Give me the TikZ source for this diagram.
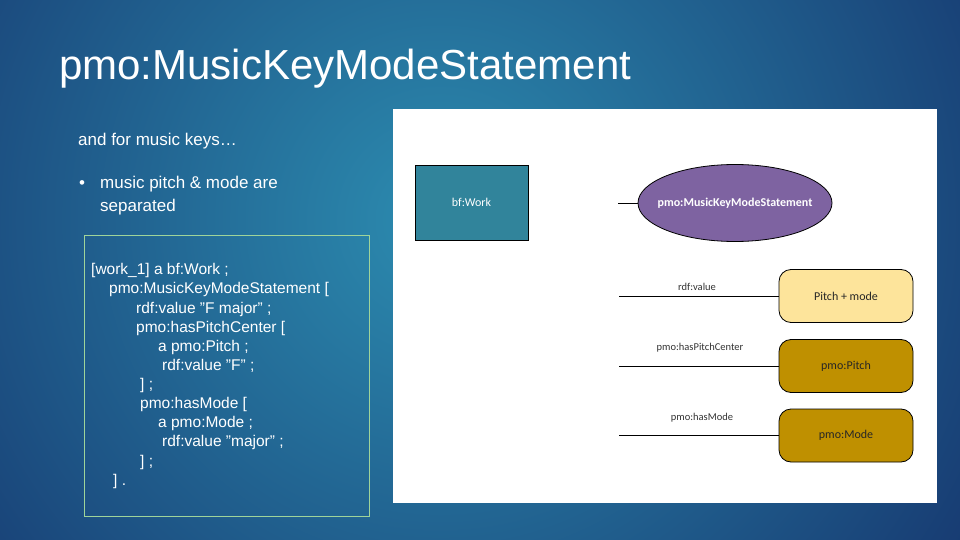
\documentclass[tikz,border=0pt]{standalone}
\usepackage{fontspec}
\setmainfont{Liberation Sans}
\newfontfamily\diagfont{Carlito}
\usetikzlibrary{shapes.geometric}
\definecolor{bgouter}{HTML}{15336C}
\definecolor{bginner}{HTML}{2C8CB0}
\definecolor{codeframe}{HTML}{9FD49A}
\definecolor{workfill}{HTML}{31849B}
\definecolor{stmtfill}{HTML}{7E63A1}
\definecolor{lightgold}{HTML}{FDE49B}
\definecolor{darkgold}{HTML}{BF9000}
\tikzset{
  txt/.style={anchor=base west, inner sep=0pt, text=white},
  codeline/.style={txt, font=\fontsize{15.5}{18}\selectfont},
  valbox/.style={draw=black, line width=0.8pt, rounded corners=12pt, minimum width=134pt, minimum height=53pt, font=\diagfont\fontsize{12}{14}\selectfont, text=black!85},
  rel/.style={draw=black, line width=0.8pt},
  rellabel/.style={inner sep=0pt, font=\diagfont\fontsize{10.5}{12}\selectfont, text=black!80}
}
\begin{document}
\begin{tikzpicture}[x=1pt,y=-1pt]
\useasboundingbox (0,0) rectangle (960,540);
\begin{scope}
\clip (0,0) rectangle (960,540);
\shade[inner color=bginner, outer color=bgouter] (440,220) circle (680pt);
\end{scope}
% title
\node[txt, font=\fontsize{42}{50}\selectfont] (title) at (59,80) {pmo:MusicKeyModeStatement};
% left text
\node[txt, font=\fontsize{17}{20}\selectfont] (intro) at (78,146) {and for music keys…};
\node[txt, font=\fontsize{17}{20}\selectfont] (bullet) at (79,189) {•};
\node[txt, font=\fontsize{17}{20}\selectfont] (b1) at (100,189) {music pitch \& mode are};
\node[txt, font=\fontsize{17}{20}\selectfont] (b2) at (100,211) {separated};
% code box
\node[draw=codeframe, line width=0.8pt, minimum width=285pt, minimum height=281pt, inner sep=0pt] (codebox) at (226.5,376) {};
\node[codeline] (c1) at (91,274.5) {[work\_1] a bf:Work ;};
\node[codeline] (c2) at (109,293.5) {pmo:MusicKeyModeStatement [};
\node[codeline] (c3) at (136,313) {rdf:value ”F major” ;};
\node[codeline] (c4) at (136,332) {pmo:hasPitchCenter [};
\node[codeline] (c5) at (158,351) {a pmo:Pitch ;};
\node[codeline] (c6) at (162,370) {rdf:value ”F” ;};
\node[codeline] (c7) at (140,389.5) {] ;};
\node[codeline] (c8) at (140,408.5) {pmo:hasMode [};
\node[codeline] (c9) at (158,427.5) {a pmo:Mode ;};
\node[codeline] (c10) at (162,446.5) {rdf:value ”major” ;};
\node[codeline] (c11) at (140,466) {] ;};
\node[codeline] (c12) at (113,485) {] .};
% white panel
\node[fill=white, minimum width=544pt, minimum height=394pt, inner sep=0pt] (panel) at (665,306) {};
% diagram
\node[draw=black, line width=0.8pt, fill=workfill, minimum width=113pt, minimum height=75pt, text=white, font=\diagfont\fontsize{12}{14}\selectfont] (work) at (471.5,202.5) {bf:Work};
\node[ellipse, draw=black, line width=0.8pt, fill=stmtfill, minimum width=194pt, minimum height=77pt, inner sep=0pt] (stmt) at (735,203) {};
\node[inner sep=0pt, text=white, font=\diagfont\bfseries\fontsize{12}{14}\selectfont] (stmtlabel) at (stmt.center) {pmo:MusicKeyModeStatement};
\coordinate (s0) at (618,203);
\draw[rel] (s0) -- (stmt.west);
\node[valbox, fill=lightgold] (pm) at (846,296) {Pitch + mode};
\node[valbox, fill=darkgold] (pitch) at (846,366) {pmo:Pitch};
\node[valbox, fill=darkgold] (mode) at (846,435.5) {pmo:Mode};
\coordinate (s1) at (619,296);
\coordinate (s2) at (619,366);
\coordinate (s3) at (619,435.5);
\draw[rel] (s1) -- (pm.west);
\draw[rel] (s2) -- (pitch.west);
\draw[rel] (s3) -- (mode.west);
\node[rellabel] (l1) at (697,287) {rdf:value};
\node[rellabel] (l2) at (700,348) {pmo:hasPitchCenter};
\node[rellabel] (l3) at (702,418) {pmo:hasMode};
\end{tikzpicture}
\end{document}
